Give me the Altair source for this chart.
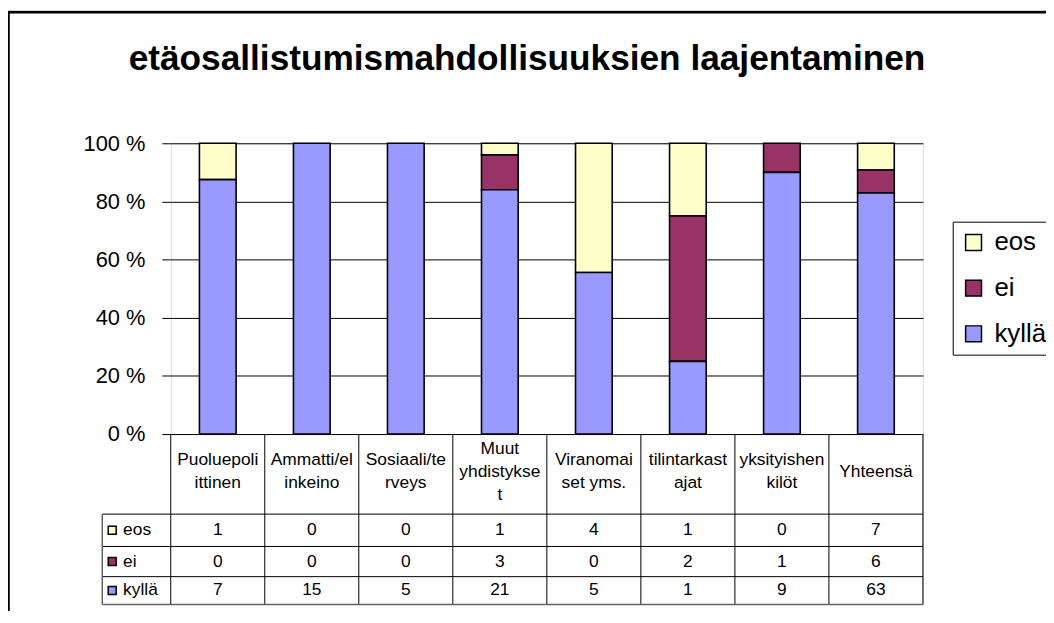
import altair as alt
import pandas as pd

# ---------------- data ----------------
categories = ["Puoluepoliittinen", "Ammatti/elinkeino", "Sosiaali/terveys", "Muut yhdistykset",
              "Viranomaiset yms.", "tilintarkastajat", "yksityishenkilöt", "Yhteensä"]
header_labels = ["Puoluepoli\nittinen", "Ammatti/el\ninkeino", "Sosiaali/te\nrveys", "Muut\nyhdistykse\nt",
                 "Viranomai\nset yms.", "tilintarkast\najat", "yksityishen\nkilöt", "Yhteensä"]
series = ["eos", "ei", "kyllä"]
eos = [1, 0, 0, 1, 4, 1, 0, 7]
ei = [0, 0, 0, 3, 0, 2, 1, 6]
kylla = [7, 15, 5, 21, 5, 1, 9, 63]
colors = ["#FFFFCC", "#993366", "#9999FF"]
title_text = "etäosallistumismahdollisuuksien laajentaminen"
y_ticks = [0, 0.2, 0.4, 0.6, 0.8, 1.0]

values_by_series = {"eos": eos, "ei": ei, "kyllä": kylla}
stack_order = {"kyllä": 0, "ei": 1, "eos": 2}

rows = []
for s in series:
    for c, v in zip(categories, values_by_series[s]):
        rows.append({"cat": c, "serie": s, "value": v, "ord": stack_order[s]})
df = pd.DataFrame(rows)
hdr = pd.DataFrame({"cat": categories, "hdr": header_labels,
                    "nlines": [len(h.split("\n")) for h in header_labels]})
one = pd.DataFrame({"k": [0]})
leg = pd.DataFrame({"serie": series})

FONT = "Liberation Sans"
W, H = 758, 293
# table geometry (pixels relative to the plot origin)
ROW_TOPS = [373.7, 406.3, 436.7]
TABLE_BOTTOM = 464.7
ROW_CENTERS = {"eos": 390, "ei": 421.5, "kyllä": 450.7}
HEADER_CENTER = 331
LINE_H = 23
LABEL_LEFT = -69

xscale = alt.Scale(paddingInner=0, paddingOuter=0)
color_scale = alt.Scale(domain=series, range=colors)

def X(**kw):
    return alt.X("cat:N", sort=categories, scale=xscale, axis=None, **kw)

bars = alt.Chart(df).transform_filter("datum.value > 0").mark_bar(
    width={"band": 0.39}, stroke="black", strokeWidth=1.6
).encode(
    x=X(),
    y=alt.Y("value:Q", stack="normalize", scale=alt.Scale(domain=[0, 1], nice=False),
            axis=alt.Axis(values=y_ticks, labelExpr="round(datum.value*100) + ' %'",
                          labelFontSize=22, labelFont=FONT, labelColor="black",
                          tickSize=9, tickColor="black", domain=False, grid=True,
                          gridColor="black", gridWidth=1, title=None, labelPadding=17)),
    color=alt.Color("serie:N", scale=color_scale, sort=series,
                    legend=alt.Legend(orient="none", legendX=788, legendY=79, title=None,
                                      symbolType="square", symbolSize=256,
                                      symbolStrokeColor="black", symbolStrokeWidth=1.5,
                                      labelFontSize=26, labelFont=FONT, labelColor="black",
                                      labelOffset=8, rowPadding=20, padding=8,
                                      strokeColor="black", fillColor="white")),
    order=alt.Order("ord:Q"),
)

def hrule(y, x1, x2, color="black", width=1.0):
    return alt.Chart(one).mark_rule(color=color, strokeWidth=width).encode(
        y=alt.value(y), x=alt.value(x1), x2=alt.value(x2))

def vrule(x, y1, y2, color="black", width=1.0):
    return alt.Chart(one).mark_rule(color=color, strokeWidth=width).encode(
        x=alt.value(x), y=alt.value(y1), y2=alt.value(y2))

# table vertical lines at category boundaries
vlines = alt.Chart(hdr).mark_rule(color="black", strokeWidth=1).encode(
    x=X(bandPosition=0), y=alt.value(H), y2=alt.value(TABLE_BOTTOM))
vline_last = alt.Chart(hdr).transform_filter(
    alt.datum.cat == categories[-1]).mark_rule(color="#404040", strokeWidth=1.5).encode(
    x=X(bandPosition=1), y=alt.value(H), y2=alt.value(TABLE_BOTTOM))

header_layers = []
for n in sorted(set(hdr["nlines"])):
    header_layers.append(
        alt.Chart(hdr).transform_filter(alt.datum.nlines == n).mark_text(
            font=FONT, fontSize=17.5, lineBreak="\n", lineHeight=LINE_H,
            baseline="middle", color="black"
        ).encode(x=X(), y=alt.value(HEADER_CENTER - (n - 1) * LINE_H / 2), text="hdr:N"))

cell_layers = []
for s in series:
    cell_layers.append(
        alt.Chart(df).transform_filter(alt.datum.serie == s).mark_text(
            font=FONT, fontSize=17.5, baseline="middle", color="black"
        ).encode(x=X(), y=alt.value(ROW_CENTERS[s]), text="value:Q"))
    cell_layers.append(
        alt.Chart(leg).transform_filter(alt.datum.serie == s).mark_point(
            shape="square", size=64, filled=True, opacity=1, stroke="black", strokeWidth=1.5
        ).encode(x=alt.value(-59), y=alt.value(ROW_CENTERS[s]),
                 color=alt.Color("serie:N", scale=color_scale, sort=series)))
    cell_layers.append(
        alt.Chart(leg).transform_filter(alt.datum.serie == s).mark_text(
            font=FONT, fontSize=17.5, baseline="middle", align="left", color="black"
        ).encode(x=alt.value(-48), y=alt.value(ROW_CENTERS[s]), text="serie:N"))

grid_lines = [
    hrule(ROW_TOPS[0], LABEL_LEFT, W),
    hrule(ROW_TOPS[1], LABEL_LEFT, W),
    hrule(ROW_TOPS[2], LABEL_LEFT, W),
    hrule(TABLE_BOTTOM, LABEL_LEFT, W, color="#606060", width=1.5),
    vrule(LABEL_LEFT, ROW_TOPS[0], TABLE_BOTTOM, color="#606060", width=1.5),
]

frame = [
    hrule(-133.5, -164, 890, color="#C0C0C0", width=1),
    hrule(-132, -164, 890, color="black", width=2.5),
    vrule(-163.2, -132, 490, color="black", width=2),
]

title = alt.Chart(one).mark_text(
    text=title_text, font=FONT, fontSize=35.5, fontWeight="bold", color="black", baseline="middle"
).encode(x=alt.value(359), y=alt.value(-85))

chart = alt.layer(
    *frame, title, bars, vlines, vline_last, *header_layers, *grid_lines, *cell_layers
).properties(
    width=W, height=H,
    autosize=alt.AutoSizeParams(type="none"),
    padding={"left": 164, "top": 134, "right": 124, "bottom": 176},
).configure_view(
    fill="#C0C0C0", stroke="#808080", strokeWidth=1
).configure(background="white")

chart.save("out.html", embed_options={"renderer": "svg", "actions": False})
